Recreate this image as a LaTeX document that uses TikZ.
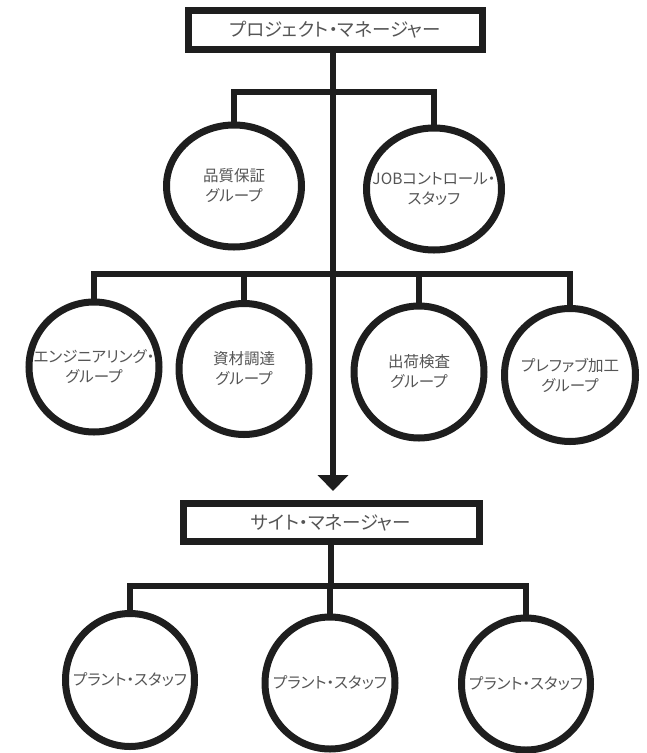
\documentclass[tikz,border=0pt]{standalone}
\usepackage{fontspec}
\newfontfamily\jp[RawFeature=+palt]{Noto Sans CJK JP}
\usetikzlibrary{shapes.geometric,arrows.meta}
\definecolor{txt}{RGB}{85,85,85}
\definecolor{ink}{RGB}{30,30,30}
\begin{document}
\begin{tikzpicture}[x=1pt,y=-1pt,
  every node/.style={font=\jp\fontsize{15.5}{20}\selectfont,text=txt,outer sep=0pt,inner sep=0pt,align=center},
  boxnode/.style={draw=ink,line width=7pt,rectangle,minimum width=294pt,minimum height=39pt,
    font=\jp\fontsize{18.5}{20}\selectfont},
  circ/.style={draw=ink,line width=7pt,ellipse,minimum width=131pt,minimum height=131pt},
  conn/.style={draw=ink,line width=6.5pt,line join=miter}]
\useasboundingbox (0,0) rectangle (646,753);
\fill[white] (0,0) rectangle (646,753);
% boxes
\node[boxnode] (pm) at (335,30) {プロジェクト・マネージャー};
\node[boxnode,minimum width=296pt,minimum height=38pt] (sm) at (331,522.5) {サイト・マネージャー};
% upper circles
\node[circ,minimum width=135pt,minimum height=122pt] (qa) at (234,186) {};
\node (qat) at (qa) {品質保証\\グループ};
\node[circ,minimum width=135pt,minimum height=122pt] (job) at (434,189) {};
\node (jobt) at (job) {JOBコントロール・\\スタッフ};
% middle circles
\node[circ,minimum width=130pt,minimum height=130pt] (eng) at (94,367) {};
\node (engt) at (eng) {エンジニアリング・\\グループ};
\node[circ,minimum width=130pt,minimum height=131pt] (mat) at (244,369) {};
\node (matt) at (mat) {資材調達\\グループ};
\node[circ,minimum width=130pt,minimum height=132pt] (ship) at (419,372) {};
\node (shipt) at (ship) {出荷検査\\グループ};
\node[circ,minimum width=131pt,minimum height=133pt] (pre) at (570,375) {};
\node (pret) at (pre) {プレファブ加工\\グループ};
% bottom circles
\node[circ,minimum width=129pt,minimum height=133pt] (p1) at (130,680) {};
\node (p1t) at (p1) {プラント・スタッフ};
\node[circ,minimum width=130pt,minimum height=132pt] (p2) at (330,683) {};
\node (p2t) at (p2) {プラント・スタッフ};
\node[circ,minimum width=129pt,minimum height=132pt] (p3) at (526,684) {};
\node (p3t) at (p3) {プラント・スタッフ};
% junctions
\coordinate (tip) at (333,491);
\coordinate (b1) at (333,92);
\coordinate (b2) at (333,274);
\coordinate (b3) at (331,586);
% trunk with arrow
\draw[conn,-{Triangle[width=30pt,length=16pt]}] (pm.south -| tip) -- (tip);
% branch 1
\draw[conn] (qa.north) |- (b1) -| (job.north);
% branch 2
\draw[conn] (eng.north) |- (b2) -| (pre.north);
\draw[conn] (mat.north) -- (mat.north |- b2);
\draw[conn] (ship.north) -- (ship.north |- b2);
% branch 3
\draw[conn] (sm.south -| b3) -- (b3);
\draw[conn] (p1.north) |- (b3) -| (p3.north);
\draw[conn] (p2.north) -- (p2.north |- b3);
\end{tikzpicture}
\end{document}
